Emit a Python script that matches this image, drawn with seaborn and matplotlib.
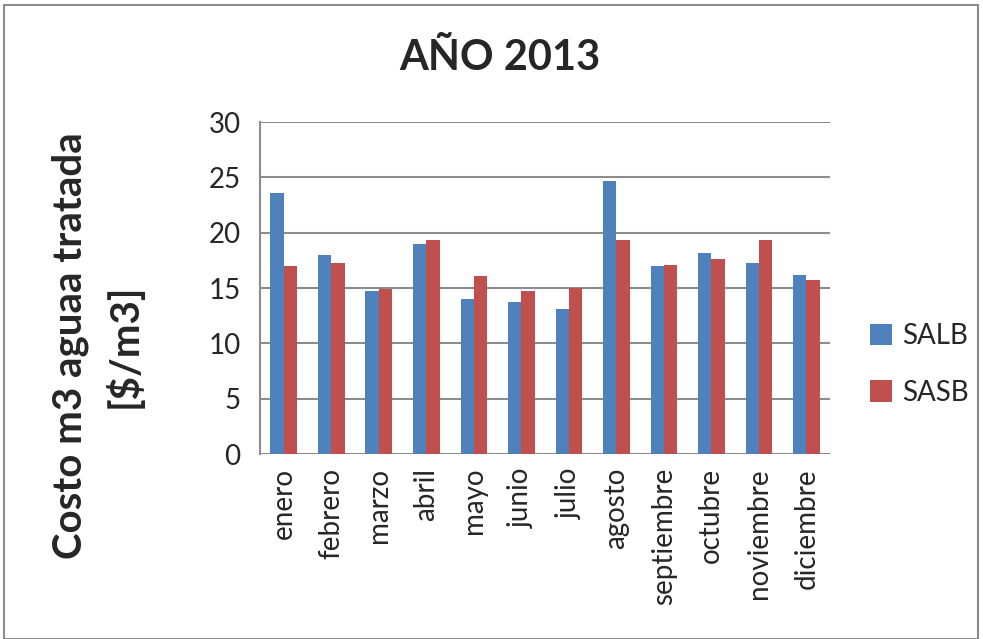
import matplotlib.pyplot as plt
import pandas as pd
import seaborn as sns
from matplotlib.patches import Rectangle

MONTHS = [
    "enero", "febrero", "marzo", "abril", "mayo", "junio",
    "julio", "agosto", "septiembre", "octubre", "noviembre", "diciembre",
]
SALB = [23.6, 18.0, 14.7, 19.0, 14.0, 13.7, 13.1, 24.7, 17.0, 18.2, 17.3, 16.2]
SASB = [17.0, 17.3, 14.9, 19.3, 16.1, 14.7, 15.0, 19.3, 17.1, 17.6, 19.3, 15.7]
SERIES = ["SALB", "SASB"]
COLORS = ["#4F81BD", "#C0504D"]
Y_TICKS = [0, 5, 10, 15, 20, 25, 30]


def build_frame() -> pd.DataFrame:
    rows = []
    for name, values in zip(SERIES, [SALB, SASB]):
        for month, value in zip(MONTHS, values):
            rows.append({"mes": month, "serie": name, "costo": value})
    return pd.DataFrame(rows)


def main() -> None:
    sns.set_theme(style="white")
    plt.rcParams["font.family"] = ["Lato", "DejaVu Sans"]

    df = build_frame()
    fig = plt.figure(figsize=(9.83, 6.39), dpi=100)
    ax = fig.add_axes([0.2645, 0.2895, 0.58, 0.5195])

    sns.barplot(
        data=df, x="mes", y="costo", hue="serie", order=MONTHS,
        hue_order=SERIES, palette=COLORS, width=0.56, saturation=1,
        edgecolor="none", ax=ax,
    )

    ax.set_ylim(0, 30)
    ax.set_yticks(Y_TICKS)
    ax.yaxis.grid(True, color="#8c8c8c", linewidth=1.5)
    ax.set_axisbelow(True)
    for side in ["top", "right", "bottom"]:
        ax.spines[side].set_visible(False)
    ax.spines["left"].set_color("#8c8c8c")
    ax.spines["left"].set_linewidth(1.5)
    ax.tick_params(axis="y", length=9, width=1.5, color="#8c8c8c", labelsize=20, pad=5)
    ax.tick_params(axis="x", length=0, labelsize=20, pad=10)
    plt.setp(ax.get_xticklabels(), rotation=90)
    ax.set_xlabel("")
    ax.set_ylabel("Costo m3 aguaa tratada\n[$/m3]", fontsize=29, fontweight="bold",
                  linespacing=1.5)
    ax.yaxis.set_label_coords(-0.204, 0.325)

    fig.text(0.508, 0.91, "AÑO 2013", fontsize=30, fontweight="bold",
             ha="center", va="center")

    ax.legend(
        loc="center left", bbox_to_anchor=(1.05, 0.27), frameon=False,
        fontsize=20, handlelength=0.8, handleheight=0.8, labelspacing=1.1,
        handletextpad=0.35, borderaxespad=0,
    )

    fig.patches.append(
        Rectangle((0.004, 0.0), 0.991, 0.992, transform=fig.transFigure,
                  fill=False, edgecolor="#8c8c8c", linewidth=1.5)
    )

    fig.savefig("out.png", dpi=100)
    plt.close(fig)


if __name__ == "__main__":
    main()
